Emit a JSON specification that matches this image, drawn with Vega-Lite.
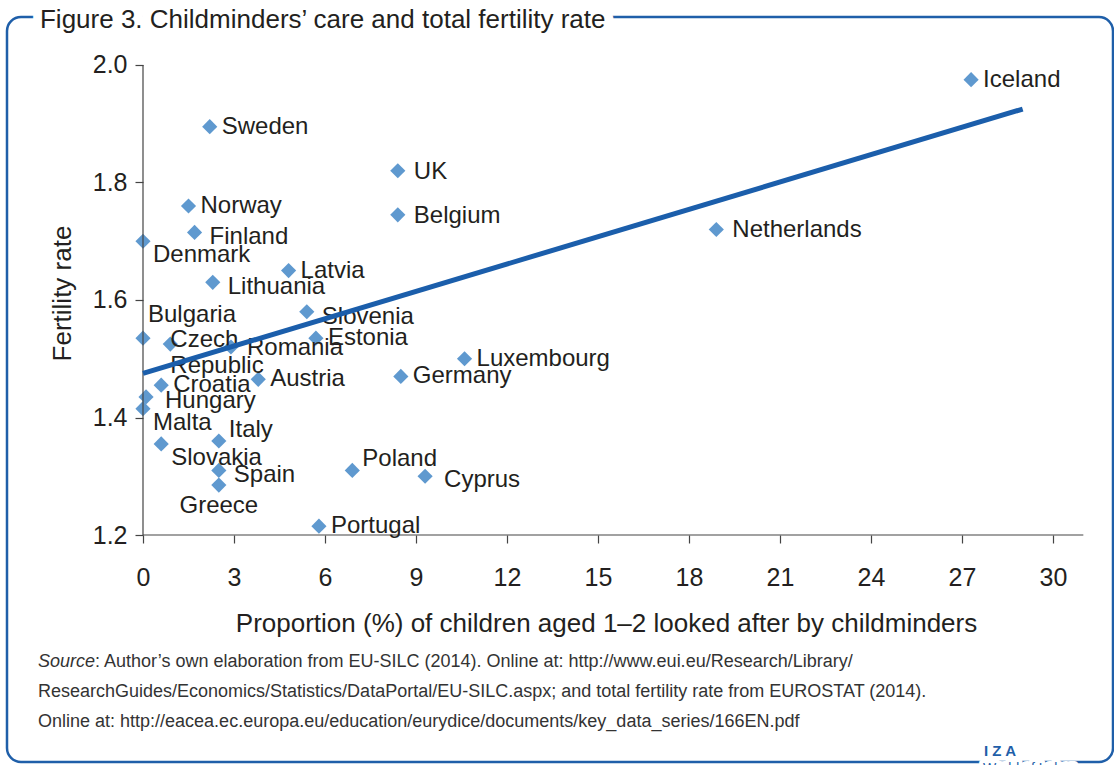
{
  "$schema": "https://vega.github.io/schema/vega-lite/v6.json",
  "width": 1106,
  "height": 745,
  "autosize": {"type": "none"},
  "padding": {"left": 7, "top": 17, "right": 1, "bottom": 3},
  "background": "white",
  "config": {
    "view": {"stroke": "#1f5fa9", "strokeWidth": 2.5, "cornerRadius": 14},
    "font": "Liberation Sans",
    "axis": {
      "grid": false,
      "domain": false,
      "tickColor": "#444444",
      "tickWidth": 1.2,
      "tickSize": 8,
      "labelColor": "#231f20",
      "titleColor": "#231f20",
      "labelFont": "Liberation Sans",
      "titleFont": "Liberation Sans",
      "labelFontSize": 25,
      "titleFontSize": 26,
      "titleFontWeight": "normal",
      "labelFlush": false
    }
  },
  "datasets": {
    "countries": [
      {"country": "Iceland", "childminders": 27.3, "fertility": 1.975},
      {"country": "Sweden", "childminders": 2.2, "fertility": 1.895},
      {"country": "UK", "childminders": 8.4, "fertility": 1.82},
      {"country": "Norway", "childminders": 1.5, "fertility": 1.76},
      {"country": "Belgium", "childminders": 8.4, "fertility": 1.745},
      {"country": "Netherlands", "childminders": 18.9, "fertility": 1.72},
      {"country": "Finland", "childminders": 1.7, "fertility": 1.715},
      {"country": "Denmark", "childminders": 0.0, "fertility": 1.7},
      {"country": "Latvia", "childminders": 4.8, "fertility": 1.65},
      {"country": "Lithuania", "childminders": 2.3, "fertility": 1.63},
      {"country": "Slovenia", "childminders": 5.4, "fertility": 1.58},
      {"country": "Bulgaria", "childminders": 0.0, "fertility": 1.535},
      {"country": "Estonia", "childminders": 5.7, "fertility": 1.535},
      {"country": "Czech Republic", "childminders": 0.9, "fertility": 1.525},
      {"country": "Romania", "childminders": 2.9, "fertility": 1.52},
      {"country": "Luxembourg", "childminders": 10.6, "fertility": 1.5},
      {"country": "Germany", "childminders": 8.5, "fertility": 1.47},
      {"country": "Austria", "childminders": 3.8, "fertility": 1.465},
      {"country": "Croatia", "childminders": 0.6, "fertility": 1.455},
      {"country": "Hungary", "childminders": 0.1, "fertility": 1.435},
      {"country": "Malta", "childminders": 0.0, "fertility": 1.415},
      {"country": "Italy", "childminders": 2.5, "fertility": 1.36},
      {"country": "Slovakia", "childminders": 0.6, "fertility": 1.355},
      {"country": "Spain", "childminders": 2.5, "fertility": 1.31},
      {"country": "Poland", "childminders": 6.9, "fertility": 1.31},
      {"country": "Cyprus", "childminders": 9.3, "fertility": 1.3},
      {"country": "Greece", "childminders": 2.5, "fertility": 1.285},
      {"country": "Portugal", "childminders": 5.8, "fertility": 1.215}
    ],
    "trend": [
      {"childminders": 0, "fertility": 1.475},
      {"childminders": 29, "fertility": 1.925}
    ]
  },
  "layer": [
    {
      "data": {"name": "countries"},
      "mark": {"type": "point", "shape": "diamond", "filled": true, "size": 230, "color": "#5f99cf", "opacity": 1},
      "encoding": {
        "x": {
          "field": "childminders", "type": "quantitative",
          "scale": {"domain": [-4.4835, 31.978], "nice": false, "zero": false},
          "axis": {
            "title": "Proportion (%) of children aged 1–2 looked after by childminders",
            "values": [0, 3, 6, 9, 12, 15, 18, 21, 24, 27, 30],
            "offset": -227,
            "labelPadding": 22,
            "titlePadding": 20,
            "titleX": 599
          }
        },
        "y": {
          "field": "fertility", "type": "quantitative",
          "scale": {"domain": [0.81362, 2.0817], "nice": false, "zero": false},
          "axis": {
            "title": "Fertility rate",
            "values": [1.2, 1.4, 1.6, 1.8, 2.0],
            "format": ".1f",
            "offset": -136,
            "labelPadding": 8,
            "titlePadding": 17,
            "titleY": 276
          }
        }
      }
    },
    {
      "data": {"values": [{}]},
      "mark": {"type": "rule", "color": "#444444", "strokeWidth": 1.2},
      "encoding": {"x": {"datum": 0}, "x2": {"datum": 31}, "y": {"datum": 1.2}}
    },
    {
      "data": {"values": [{}]},
      "mark": {"type": "rule", "color": "#444444", "strokeWidth": 1.2},
      "encoding": {"x": {"datum": 0}, "y": {"datum": 1.2}, "y2": {"datum": 2.0}}
    },
    {
      "data": {"name": "countries"},
      "transform": [{"filter": {"field": "country", "oneOf": ["Iceland", "Sweden", "Norway", "Latvia", "Luxembourg", "Croatia", "Portugal", "Germany", "Austria", "Estonia"]}}],
      "mark": {"type": "text", "align": "left", "baseline": "middle", "dx": 12, "dy": 0, "fontSize": 24, "color": "#231f20"},
      "encoding": {"x": {"field": "childminders", "type": "quantitative"}, "y": {"field": "fertility", "type": "quantitative"}, "text": {"field": "country"}}
    },
    {
      "data": {"name": "countries"},
      "transform": [{"filter": {"field": "country", "oneOf": ["UK", "Belgium", "Netherlands", "Romania"]}}],
      "mark": {"type": "text", "align": "left", "baseline": "middle", "dx": 16, "dy": 1, "fontSize": 24, "color": "#231f20"},
      "encoding": {"x": {"field": "childminders", "type": "quantitative"}, "y": {"field": "fertility", "type": "quantitative"}, "text": {"field": "country"}}
    },
    {
      "data": {"name": "countries"},
      "transform": [{"filter": {"field": "country", "oneOf": ["Finland", "Slovenia", "Spain", "Lithuania"]}}],
      "mark": {"type": "text", "align": "left", "baseline": "middle", "dx": 15, "dy": 5, "fontSize": 24, "color": "#231f20"},
      "encoding": {"x": {"field": "childminders", "type": "quantitative"}, "y": {"field": "fertility", "type": "quantitative"}, "text": {"field": "country"}}
    },
    {
      "data": {"name": "countries"},
      "transform": [{"filter": {"field": "country", "oneOf": ["Hungary", "Cyprus"]}}],
      "mark": {"type": "text", "align": "left", "baseline": "middle", "dx": 19, "dy": 4, "fontSize": 24, "color": "#231f20"},
      "encoding": {"x": {"field": "childminders", "type": "quantitative"}, "y": {"field": "fertility", "type": "quantitative"}, "text": {"field": "country"}}
    },
    {
      "data": {"name": "countries"},
      "transform": [{"filter": {"field": "country", "oneOf": ["Denmark", "Slovakia", "Malta"]}}],
      "mark": {"type": "text", "align": "left", "baseline": "middle", "dx": 10, "dy": 14, "fontSize": 24, "color": "#231f20"},
      "encoding": {"x": {"field": "childminders", "type": "quantitative"}, "y": {"field": "fertility", "type": "quantitative"}, "text": {"field": "country"}}
    },
    {
      "data": {"name": "countries"},
      "transform": [{"filter": {"field": "country", "oneOf": ["Bulgaria"]}}],
      "mark": {"type": "text", "align": "left", "baseline": "middle", "dx": 5, "dy": -23, "fontSize": 24, "color": "#231f20"},
      "encoding": {"x": {"field": "childminders", "type": "quantitative"}, "y": {"field": "fertility", "type": "quantitative"}, "text": {"field": "country"}}
    },
    {
      "data": {"name": "countries"},
      "transform": [{"filter": {"field": "country", "oneOf": ["Poland", "Italy"]}}],
      "mark": {"type": "text", "align": "left", "baseline": "middle", "dx": 10, "dy": -11, "fontSize": 24, "color": "#231f20"},
      "encoding": {"x": {"field": "childminders", "type": "quantitative"}, "y": {"field": "fertility", "type": "quantitative"}, "text": {"field": "country"}}
    },
    {
      "data": {"name": "countries"},
      "transform": [{"filter": {"field": "country", "oneOf": ["Greece"]}}],
      "mark": {"type": "text", "align": "center", "baseline": "middle", "dx": 0, "dy": 21, "fontSize": 24, "color": "#231f20"},
      "encoding": {"x": {"field": "childminders", "type": "quantitative"}, "y": {"field": "fertility", "type": "quantitative"}, "text": {"field": "country"}}
    },
    {
      "data": {"name": "countries"},
      "transform": [{"filter": {"field": "country", "oneOf": ["Czech Republic"]}}],
      "mark": {"type": "text", "align": "left", "baseline": "top", "lineBreak": " ", "lineHeight": 26, "dx": 0, "dy": -16, "fontSize": 24, "color": "#231f20"},
      "encoding": {"x": {"field": "childminders", "type": "quantitative"}, "y": {"field": "fertility", "type": "quantitative"}, "text": {"field": "country"}}
    },
    {
      "data": {"name": "trend"},
      "mark": {"type": "line", "color": "#1b5eab", "strokeWidth": 5},
      "encoding": {"x": {"field": "childminders", "type": "quantitative"}, "y": {"field": "fertility", "type": "quantitative"}}
    },
    {
      "data": {"values": [{}]},
      "mark": {"type": "text", "align": "left", "baseline": "middle", "fontSize": 26, "color": "white", "stroke": "white", "strokeWidth": 18, "strokeJoin": "round"},
      "encoding": {"x": {"datum": -3.396}, "y": {"datum": 2.0766}, "text": {"value": "Figure 3. Childminders’ care and total fertility rate"}}
    },
    {
      "data": {"values": [{}]},
      "mark": {"type": "text", "align": "left", "baseline": "middle", "fontSize": 26, "color": "#231f20"},
      "encoding": {"x": {"datum": -3.396}, "y": {"datum": 2.0766}, "text": {"value": "Figure 3. Childminders’ care and total fertility rate"}}
    },
    {
      "data": {"values": [{}]},
      "mark": {"type": "text", "align": "left", "baseline": "middle", "fontSize": 18, "fontStyle": "italic", "color": "#333333"},
      "encoding": {"x": {"datum": -3.4615}, "y": {"datum": 0.98383}, "text": {"value": "Source"}}
    },
    {
      "data": {"values": [{}]},
      "mark": {"type": "text", "align": "left", "baseline": "middle", "fontSize": 18, "dx": 57, "color": "#333333"},
      "encoding": {"x": {"datum": -3.4615}, "y": {"datum": 0.98383}, "text": {"value": ": Author’s own elaboration from EU-SILC (2014). Online at: http://www.eui.eu/Research/Library/"}}
    },
    {
      "data": {"values": [{}]},
      "mark": {"type": "text", "align": "left", "baseline": "middle", "fontSize": 18, "color": "#333333"},
      "encoding": {"x": {"datum": -3.4615}, "y": {"datum": 0.93277}, "text": {"value": "ResearchGuides/Economics/Statistics/DataPortal/EU-SILC.aspx; and total fertility rate from EUROSTAT (2014)."}}
    },
    {
      "data": {"values": [{}]},
      "mark": {"type": "text", "align": "left", "baseline": "middle", "fontSize": 18, "color": "#333333"},
      "encoding": {"x": {"datum": -3.4615}, "y": {"datum": 0.8817}, "text": {"value": "Online at: http://eacea.ec.europa.eu/education/eurydice/documents/key_data_series/166EN.pdf"}}
    },
    {
      "data": {"values": [{}]},
      "mark": {"type": "text", "align": "center", "baseline": "middle", "fontSize": 15, "fontWeight": "bold", "color": "#1f5fa9"},
      "encoding": {"x": {"datum": 28.253}, "y": {"datum": 0.83234}, "text": {"value": "I Z A"}}
    },
    {
      "data": {"values": [{}]},
      "mark": {"type": "text", "align": "center", "baseline": "middle", "fontSize": 14, "color": "white", "stroke": "white", "strokeWidth": 8, "strokeJoin": "round"},
      "encoding": {"x": {"datum": 29.2}, "y": {"datum": 0.8017}, "text": {"value": "World of Labor"}}
    },
    {
      "data": {"values": [{}]},
      "mark": {"type": "text", "align": "center", "baseline": "middle", "fontSize": 14, "color": "#1f5fa9"},
      "encoding": {"x": {"datum": 29.2}, "y": {"datum": 0.8017}, "text": {"value": "World of Labor"}}
    }
  ]
}
